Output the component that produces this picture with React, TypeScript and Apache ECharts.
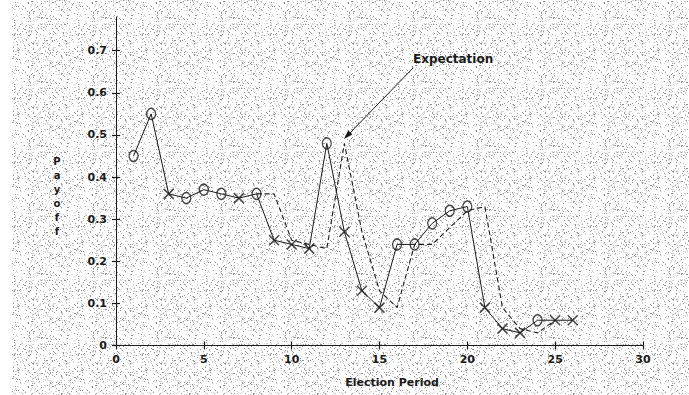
import React, { useEffect, useRef } from "react";
import * as echarts from "echarts";

const periods = [1, 2, 3, 4, 5, 6, 7, 8, 9, 10, 11, 12, 13, 14, 15, 16, 17, 18, 19, 20, 21, 22, 23, 24, 25, 26];
const actualPayoff = [0.45, 0.55, 0.36, 0.35, 0.37, 0.36, 0.35, 0.36, 0.25, 0.24, 0.23, 0.48, 0.27, 0.13, 0.09, 0.24, 0.24, 0.29, 0.32, 0.33, 0.09, 0.04, 0.03, 0.06, 0.06, 0.06];
const markerType = ["O", "O", "X", "O", "O", "O", "X", "O", "X", "X", "X", "O", "X", "X", "X", "O", "O", "O", "O", "O", "X", "X", "X", "O", "X", "X"];
const expectationPeriods = [8, 9, 10, 11, 12, 13, 14, 15, 16, 17, 18, 19, 20, 21, 22, 23, 24, 25];
const expectationPayoff = [0.36, 0.36, 0.25, 0.24, 0.23, 0.48, 0.27, 0.13, 0.09, 0.24, 0.24, 0.28, 0.32, 0.33, 0.09, 0.04, 0.03, 0.06];
const yTickValues = [0, 0.1, 0.2, 0.3, 0.4, 0.5, 0.6, 0.7];

const FONT = "'DejaVu Sans', sans-serif";
const INK = "#1a1a1a";

function makeTexture(): string {
  const c = document.createElement("canvas");
  c.width = 64;
  c.height = 64;
  const ctx = c.getContext("2d");
  if (!ctx) return "";
  const img = ctx.createImageData(64, 64);
  for (let y = 0; y < 64; y++) {
    for (let x = 0; x < 64; x++) {
      let h = (x * 374761393 + y * 668265263) | 0;
      h = Math.imul(h ^ (h >>> 13), 1274126177);
      h = (h ^ (h >>> 16)) >>> 0;
      const r = (h % 1000) / 1000;
      let v = 255;
      if (r < 0.07) v = 150;
      else if (r < 0.17) v = 210;
      const i = (y * 64 + x) * 4;
      img.data[i] = v;
      img.data[i + 1] = v;
      img.data[i + 2] = v;
      img.data[i + 3] = 255;
    }
  }
  ctx.putImageData(img, 0, 0);
  return c.toDataURL();
}

export default function App() {
  const ref = useRef<HTMLDivElement>(null);

  useEffect(() => {
    if (!ref.current) return;
    const chart = echarts.init(ref.current, null, { renderer: "svg" });
    const texture = makeTexture();

    const actualLine = periods.map((p, i) => [p, actualPayoff[i]]);
    const oPoints = periods.map((p, i) => [p, actualPayoff[i], markerType[i]]).filter((d) => d[2] === "O").map((d) => [d[0], d[1]]);
    const xPoints = periods.map((p, i) => [p, actualPayoff[i], markerType[i]]).filter((d) => d[2] === "X").map((d) => [d[0], d[1]]);
    const expLine = expectationPeriods.map((p, i) => [p, expectationPayoff[i]]);

    const labelStyle = { color: INK, fontFamily: FONT, fontSize: 11, fontWeight: "bold" as const };

    chart.setOption({
      animation: false,
      backgroundColor: "#ffffff",
      grid: { left: 116, right: 46, top: 17, bottom: 49.5, containLabel: false },
      xAxis: [
        {
          type: "value",
          min: 0,
          max: 30,
          interval: 5,
          splitLine: { show: false },
          axisLine: { show: true, onZero: false, lineStyle: { color: INK, width: 1 } },
          axisTick: { show: true, length: 4, lineStyle: { color: INK, width: 1.2 } },
          axisLabel: { ...labelStyle, margin: 8 },
        },
        {
          type: "value",
          min: 0,
          max: 30,
          interval: 5,
          position: "bottom",
          splitLine: { show: false },
          axisLine: { show: false },
          axisTick: { show: true, inside: true, length: 4, lineStyle: { color: INK, width: 1.2 } },
          axisLabel: { show: false },
        },
      ],
      yAxis: [
        {
          type: "value",
          min: 0,
          max: 0.78,
          splitLine: { show: false },
          axisLine: { show: true, onZero: false, lineStyle: { color: INK, width: 1 } },
          axisTick: { show: true, length: 4, customValues: yTickValues, lineStyle: { color: INK, width: 1.2 } },
          axisLabel: {
            ...labelStyle,
            margin: 9,
            customValues: yTickValues,
            formatter: (v: number) => (v === 0 ? "0" : v.toFixed(1)),
          },
        },
        {
          type: "value",
          min: 0,
          max: 0.78,
          position: "left",
          splitLine: { show: false },
          axisLine: { show: false },
          axisTick: { show: true, inside: true, length: 4, customValues: yTickValues, lineStyle: { color: INK, width: 1.2 } },
          axisLabel: { show: false },
        },
      ],
      series: [
        {
          name: "Payoff",
          type: "line",
          data: actualLine,
          showSymbol: false,
          symbol: "none",
          lineStyle: { color: INK, width: 1 },
          z: 3,
        },
        {
          name: "Expectation",
          type: "line",
          data: expLine,
          showSymbol: false,
          symbol: "none",
          lineStyle: { color: INK, width: 1.1, type: [5, 3] },
          z: 3,
        },
        {
          name: "O",
          type: "scatter",
          data: oPoints,
          symbol: "circle",
          symbolSize: [9, 11],
          itemStyle: { color: "rgba(0,0,0,0)", borderColor: INK, borderWidth: 1.4 },
          z: 4,
        },
        {
          name: "X",
          type: "scatter",
          data: xPoints,
          symbol: "path://M0,0L10,10M10,0L0,10",
          symbolSize: [10, 10],
          itemStyle: { color: "rgba(0,0,0,0)", borderColor: INK, borderWidth: 1.5 },
          z: 4,
        },
      ],
      graphic: [
        {
          type: "rect",
          z: -100,
          silent: true,
          shape: { x: 12, y: 0, width: 677, height: 395 },
          style: texture ? { fill: { image: texture, repeat: "repeat" } as any } : { fill: "#ececec" },
        },
        {
          type: "text",
          x: 413,
          y: 59,
          style: {
            text: "Expectation",
            fill: INK,
            font: `bold 12px ${FONT}`,
            textVerticalAlign: "middle",
          },
        },
        {
          type: "line",
          shape: { x1: 413, y1: 68, x2: 347, y2: 136 },
          style: { stroke: INK, lineWidth: 1 },
        },
        {
          type: "polygon",
          shape: { points: [[344, 139], [352.4, 134.6], [348.1, 130.4]] },
          style: { fill: INK },
        },
        {
          type: "text",
          x: 57,
          y: 196,
          style: {
            text: "P\na\ny\no\nf\nf",
            fill: INK,
            font: `bold 10px ${FONT}`,
            lineHeight: 14,
            textAlign: "center",
            textVerticalAlign: "middle",
          },
        },
        {
          type: "text",
          x: 392,
          y: 382,
          style: {
            text: "Election Period",
            fill: INK,
            font: `bold 11px ${FONT}`,
            textAlign: "center",
            textVerticalAlign: "middle",
          },
        },
      ],
    });

    return () => {
      chart.dispose();
    };
  }, []);

  return (
    <div
      ref={ref}
      style={{ position: "absolute", left: 0, top: 0, width: 689, height: 395 }}
    />
  );
}
